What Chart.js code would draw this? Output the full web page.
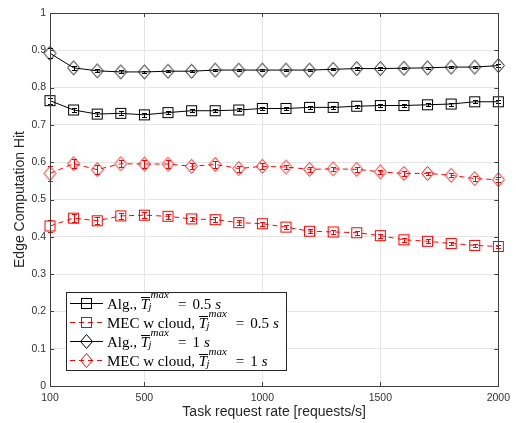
<!DOCTYPE html>
<html lang="en">
<head>
<meta charset="UTF-8">
<title>Edge Computation Hit</title>
<script src="https://cdn.jsdelivr.net/npm/chart.js"></script>
<style>
  body { margin: 0; background: #fff; }
  #wrap { width: 516px; height: 423px; }
</style>
</head>
<body>
<div id="wrap"><canvas id="hitChart" width="516" height="423"></canvas></div>
<script>
// request rates (x) and Edge Computation Hit (y)
const rates = [100, 200, 300, 400, 500, 600, 700, 800, 900, 1000, 1100, 1200, 1300, 1400, 1500, 1600, 1700, 1800, 1900, 2000];
const algHalf = [0.765, 0.740, 0.729, 0.731, 0.727, 0.733, 0.738, 0.738, 0.740, 0.744, 0.744, 0.747, 0.747, 0.750, 0.752, 0.752, 0.754, 0.756, 0.762, 0.762];
const mecHalf = [0.429, 0.450, 0.443, 0.456, 0.458, 0.455, 0.448, 0.446, 0.438, 0.435, 0.426, 0.415, 0.413, 0.411, 0.403, 0.392, 0.388, 0.382, 0.377, 0.374];
const algOne = [0.892, 0.853, 0.845, 0.842, 0.842, 0.844, 0.844, 0.847, 0.847, 0.847, 0.847, 0.847, 0.849, 0.851, 0.851, 0.852, 0.853, 0.855, 0.855, 0.859];
const mecOne = [0.570, 0.596, 0.580, 0.596, 0.595, 0.595, 0.589, 0.594, 0.583, 0.589, 0.587, 0.581, 0.582, 0.581, 0.574, 0.570, 0.570, 0.565, 0.556, 0.553];
// half widths of the error bars
const algHalfErr = [0.008, 0.006, 0.005, 0.005, 0.005, 0.004, 0.004, 0.004, 0.004, 0.004, 0.004, 0.004, 0.004, 0.004, 0.004, 0.004, 0.004, 0.004, 0.004, 0.004];
const mecHalfErr = [0.016, 0.010, 0.010, 0.008, 0.008, 0.007, 0.006, 0.007, 0.006, 0.006, 0.006, 0.005, 0.005, 0.005, 0.005, 0.005, 0.005, 0.005, 0.005, 0.005];
const algOneErr = [0.013, 0.005, 0.004, 0.004, 0.003, 0.003, 0.003, 0.003, 0.003, 0.003, 0.003, 0.003, 0.003, 0.003, 0.003, 0.003, 0.003, 0.003, 0.003, 0.004];
const mecOneErr = [0.020, 0.012, 0.012, 0.010, 0.010, 0.010, 0.008, 0.010, 0.008, 0.008, 0.006, 0.006, 0.006, 0.006, 0.005, 0.006, 0.005, 0.006, 0.006, 0.006];

const xTicks = [100, 500, 1000, 1500, 2000];
const xTickLabels = ['100', '500', '1000', '1500', '2000'];
const yTicks = [0, 0.1, 0.2, 0.3, 0.4, 0.5, 0.6, 0.7, 0.8, 0.9, 1];
const yTickLabels = ['0', '0.1', '0.2', '0.3', '0.4', '0.5', '0.6', '0.7', '0.8', '0.9', '1'];
const legendPrefix = ['Alg., ', 'MEC w cloud, ', 'Alg., ', 'MEC w cloud, '];
const legendValue = ['0.5', '0.5', '1', '1'];
const xTitle = 'Task request rate [requests/s]';
const yTitle = 'Edge Computation Hit';

// open markers, MATLAB style
function makeMarker(shape, color) {
    const c = document.createElement('canvas');
    const g = c.getContext('2d');
    if (shape === 'square') {
        c.width = 13; c.height = 13;
        g.strokeStyle = color;
        g.lineWidth = 1;
        g.strokeRect(1.5, 1.5, 10, 10);
    } else {
        c.width = 15; c.height = 17;
        g.strokeStyle = color;
        g.lineWidth = 1;
        g.beginPath();
        g.moveTo(7.5, 1.5); g.lineTo(13.5, 8.5); g.lineTo(7.5, 15.5); g.lineTo(1.5, 8.5);
        g.closePath();
        g.stroke();
    }
    return c;
}

function series(label, vals, err, color, shape, dash) {
    return {
        label: label,
        data: rates.map((r, i) => ({ x: r, y: vals[i] })),
        err: err,
        borderColor: color,
        borderWidth: 1,
        borderDash: dash,
        pointStyle: makeMarker(shape, color),
        pointRadius: 6,
        clip: false,
        fill: false,
        tension: 0
    };
}

const datasets = [
    series('alg05', algHalf, algHalfErr, '#000000', 'square', []),
    series('mec05', mecHalf, mecHalfErr, '#ff0000', 'square', [5, 4]),
    series('alg1', algOne, algOneErr, '#000000', 'diamond', []),
    series('mec1', mecOne, mecOneErr, '#ff0000', 'diamond', [5, 4])
];

function drawErrorBars(chart) {
    const ctx = chart.ctx, ys = chart.scales.y;
    chart.data.datasets.forEach((ds, i) => {
        const meta = chart.getDatasetMeta(i);
        ctx.save();
        ctx.strokeStyle = ds.borderColor;
        ctx.lineWidth = 1;
        meta.data.forEach((pt, j) => {
            const v = ds.data[j].y, e = ds.err[j];
            const top = Math.round(ys.getPixelForValue(v + e)) + 0.5;
            const bot = Math.round(ys.getPixelForValue(v - e)) + 0.5;
            const x = Math.round(pt.x) + 0.5;
            ctx.beginPath();
            ctx.moveTo(x, top); ctx.lineTo(x, bot);
            ctx.moveTo(x - 2.5, top); ctx.lineTo(x + 2.5, top);
            ctx.moveTo(x - 2.5, bot); ctx.lineTo(x + 2.5, bot);
            ctx.stroke();
        });
        ctx.restore();
    });
}

function drawFrame(chart) {
    const ctx = chart.ctx, a = chart.chartArea;
    const xs = chart.scales.x, ys = chart.scales.y;
    ctx.save();
    ctx.strokeStyle = '#404040';
    ctx.lineWidth = 1;
    ctx.strokeRect(Math.round(a.left) + 0.5, Math.round(a.top) + 0.5,
        Math.round(a.right - a.left), Math.round(a.bottom - a.top));
    ctx.beginPath();
    yTicks.forEach(t => {
        const y = Math.round(ys.getPixelForValue(t)) + 0.5;
        ctx.moveTo(a.left, y); ctx.lineTo(a.left + 4, y);
        ctx.moveTo(a.right, y); ctx.lineTo(a.right - 4, y);
    });
    xTicks.forEach(t => {
        const x = Math.round(xs.getPixelForValue(t)) + 0.5;
        ctx.moveTo(x, a.bottom); ctx.lineTo(x, a.bottom - 4);
        ctx.moveTo(x, a.top); ctx.lineTo(x, a.top + 4);
    });
    ctx.stroke();

    // axis titles
    ctx.fillStyle = '#262626';
    ctx.font = '14px "Liberation Sans"';
    ctx.textAlign = 'center';
    ctx.textBaseline = 'middle';
    ctx.fillText(xTitle, (a.left + a.right) / 2, 412);
    ctx.translate(20, (a.top + a.bottom) / 2);
    ctx.rotate(-Math.PI / 2);
    ctx.fillText(yTitle, 0, 0);
    ctx.restore();
}

function drawLegend(chart) {
    const ctx = chart.ctx;
    ctx.save();
    ctx.fillStyle = '#ffffff';
    ctx.fillRect(67, 293, 219, 78);
    ctx.strokeStyle = '#262626';
    ctx.lineWidth = 1;
    ctx.strokeRect(66.5, 292.5, 220, 78);
    chart.data.datasets.forEach((ds, i) => {
        const cy = Math.round(303 + i * 19.1) + 0.5;
        ctx.strokeStyle = ds.borderColor;
        ctx.setLineDash(ds.borderDash);
        ctx.beginPath();
        ctx.moveTo(70, cy); ctx.lineTo(103, cy);
        ctx.stroke();
        ctx.setLineDash([]);
        const m = ds.pointStyle;
        ctx.drawImage(m, Math.round(86.5 - m.width / 2), Math.round(cy - m.height / 2));

        // label: prefix, T-bar with sub/superscript, "= value s"
        const base = cy + 5;
        let x = 107;
        ctx.fillStyle = '#000';
        ctx.textAlign = 'left';
        ctx.textBaseline = 'alphabetic';
        ctx.font = '15px "Liberation Serif"';
        ctx.fillText(legendPrefix[i], x, base);
        x += ctx.measureText(legendPrefix[i]).width;
        ctx.font = 'italic 15px "Liberation Serif"';
        const tw = ctx.measureText('T').width;
        ctx.fillText('T', x, base);
        ctx.fillRect(Math.round(x), Math.round(base - 12), Math.round(tw + 1), 1);
        ctx.font = 'italic 11px "Liberation Serif"';
        ctx.fillText('max', x + tw + 1.5, base - 11);
        ctx.font = 'italic 10.5px "Liberation Serif"';
        ctx.fillText('j', x + tw - 0.5, base + 1.5);
        ctx.font = 'italic 11px "Liberation Serif"';
        x += tw + 1.5 + ctx.measureText('max').width + 9;
        ctx.font = '15px "Liberation Serif"';
        ctx.fillText('=', x, base);
        x += ctx.measureText('=').width + 6;
        ctx.fillText(legendValue[i], x, base);
        x += ctx.measureText(legendValue[i]).width + 4;
        ctx.font = 'italic 15px "Liberation Serif"';
        ctx.fillText('s', x, base);
    });
    ctx.restore();
}

const decor = {
    id: 'decor',
    afterDatasetsDraw: drawErrorBars,
    afterDraw(chart) {
        drawFrame(chart);
        drawLegend(chart);
    }
};

new Chart(document.getElementById('hitChart').getContext('2d'), {
    type: 'line',
    data: { datasets: datasets },
    options: {
        responsive: false,
        animation: false,
        layout: { padding: { left: 0, top: 13, right: 11, bottom: 0 } },
        plugins: { legend: { display: false }, tooltip: { enabled: false } },
        scales: {
            x: {
                type: 'linear',
                min: 100,
                max: 2000,
                afterBuildTicks: s => { s.ticks = xTicks.map(v => ({ value: v })); },
                afterFit: s => { s.height = 37; },
                grid: { color: '#e6e6e6', drawTicks: false },
                border: { display: false },
                ticks: {
                    padding: 6,
                    maxRotation: 0,
                    color: '#333333',
                    font: { family: 'Liberation Sans', size: 10.5 },
                    callback: (v, i) => xTickLabels[i]
                }
            },
            y: {
                min: 0,
                max: 1,
                afterBuildTicks: s => { s.ticks = yTicks.map(v => ({ value: v })); },
                afterFit: s => { s.width = 50; },
                grid: { color: '#e6e6e6', drawTicks: false },
                border: { display: false },
                ticks: {
                    padding: 4,
                    color: '#333333',
                    font: { family: 'Liberation Sans', size: 10.5 },
                    callback: (v, i) => yTickLabels[i]
                }
            }
        }
    },
    plugins: [decor]
});
</script>
</body>
</html>
